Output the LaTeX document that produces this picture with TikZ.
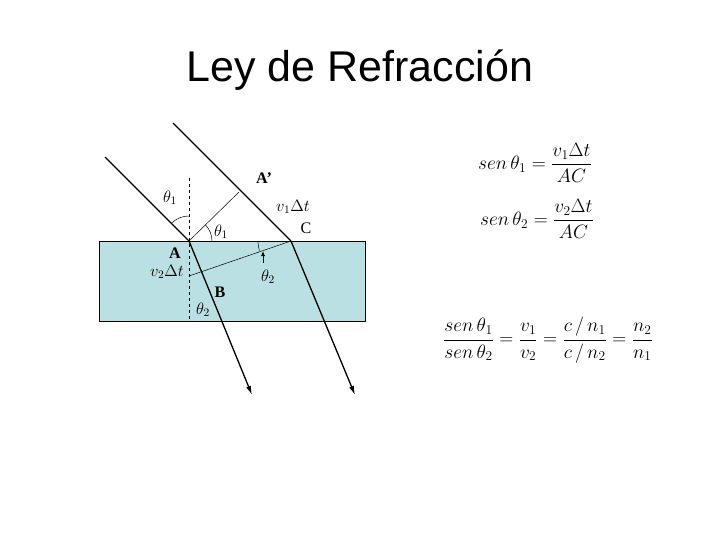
\documentclass[tikz,border=0pt]{standalone}
\usepackage{amsmath}
\usepackage{fontspec}
\setmainfont{Liberation Serif}
\newfontfamily\titlefont{Liberation Sans}
\usetikzlibrary{arrows.meta}
\begin{document}
\begin{tikzpicture}[x=1pt,y=-1pt,
  ray/.style={line width=1.3pt},
  thin/.style={line width=0.5pt},
  lab/.style={font=\fontsize{14}{16}\selectfont,inner sep=0pt,scale=1.15},
  eq/.style={font=\fontsize{17}{20}\selectfont,inner sep=0pt,scale=1.12}]
\useasboundingbox (0,0) rectangle (720,540);
\node[font=\titlefont\fontsize{43}{48}\selectfont] (title) at (360,70) {Ley de Refracción};
\draw[fill={rgb,255:red,187;green,224;blue,227}, thin] (99,241) rectangle (365,321);
\coordinate (A) at (189,241);
\coordinate (C) at (291,241);
\coordinate (Ap) at (239,192);
\coordinate (N) at (189,276);
\coordinate (s1) at (105,157);
\coordinate (s2) at (173,123);
\coordinate (e1) at (252,395);
\coordinate (e2) at (355,395);
\coordinate (nt) at (189,178);
\coordinate (nb) at (189,321);
\draw[thin,dashed] (nt) -- (nb);
\draw[thin] (A) -- (Ap);
\draw[thin] (C) -- (N);
\draw[ray] (s1) -- (A);
\draw[ray] (s2) -- (C);
\draw[ray,-{Latex[length=9pt,width=5pt]}] (A) -- (e1);
\draw[ray,-{Latex[length=9pt,width=5pt]}] (C) -- (e2);
\draw[thin] (189,216) arc[start angle=-90,end angle=-135,radius=25];
\draw[thin] (212,241) arc[start angle=0,end angle=-45,radius=23];
\draw[thin] (258,241) arc[start angle=180,end angle=163,radius=33];
\draw[line width=0.8pt,-{Latex[length=5pt,width=4pt]}] (263,263) -- (263,251);
\node[lab] (t1a) at (170,198) {$\theta_1$};
\node[lab] (t1b) at (221,232) {$\theta_1$};
\node[lab] (t2a) at (268,277) {$\theta_2$};
\node[lab] (t2b) at (203,310) {$\theta_2$};
\node[lab] (la) at (175,253) {\textbf{A}};
\node[lab] (lb) at (220,292) {\textbf{B}};
\node[lab] (lc) at (306,228) {C};
\node[lab] (lap) at (264,178) {\textbf{A’}};
\node[lab] (v1) at (293,207) {$v_1\Delta t$};
\node[lab] (v2) at (167,272) {$v_2\Delta t$};
\node[eq] (eq1) at (535,163) {$sen\,\theta_1 = \dfrac{v_1\Delta t}{AC}$};
\node[eq] (eq2) at (537,219) {$sen\,\theta_2 = \dfrac{v_2\Delta t}{AC}$};
\node[eq] (eq3) at (548,340) {$\dfrac{sen\,\theta_1}{sen\,\theta_2}=\dfrac{v_1}{v_2}=\dfrac{c\,/\,n_1}{c\,/\,n_2}=\dfrac{n_2}{n_1}$};
\end{tikzpicture}
\end{document}
